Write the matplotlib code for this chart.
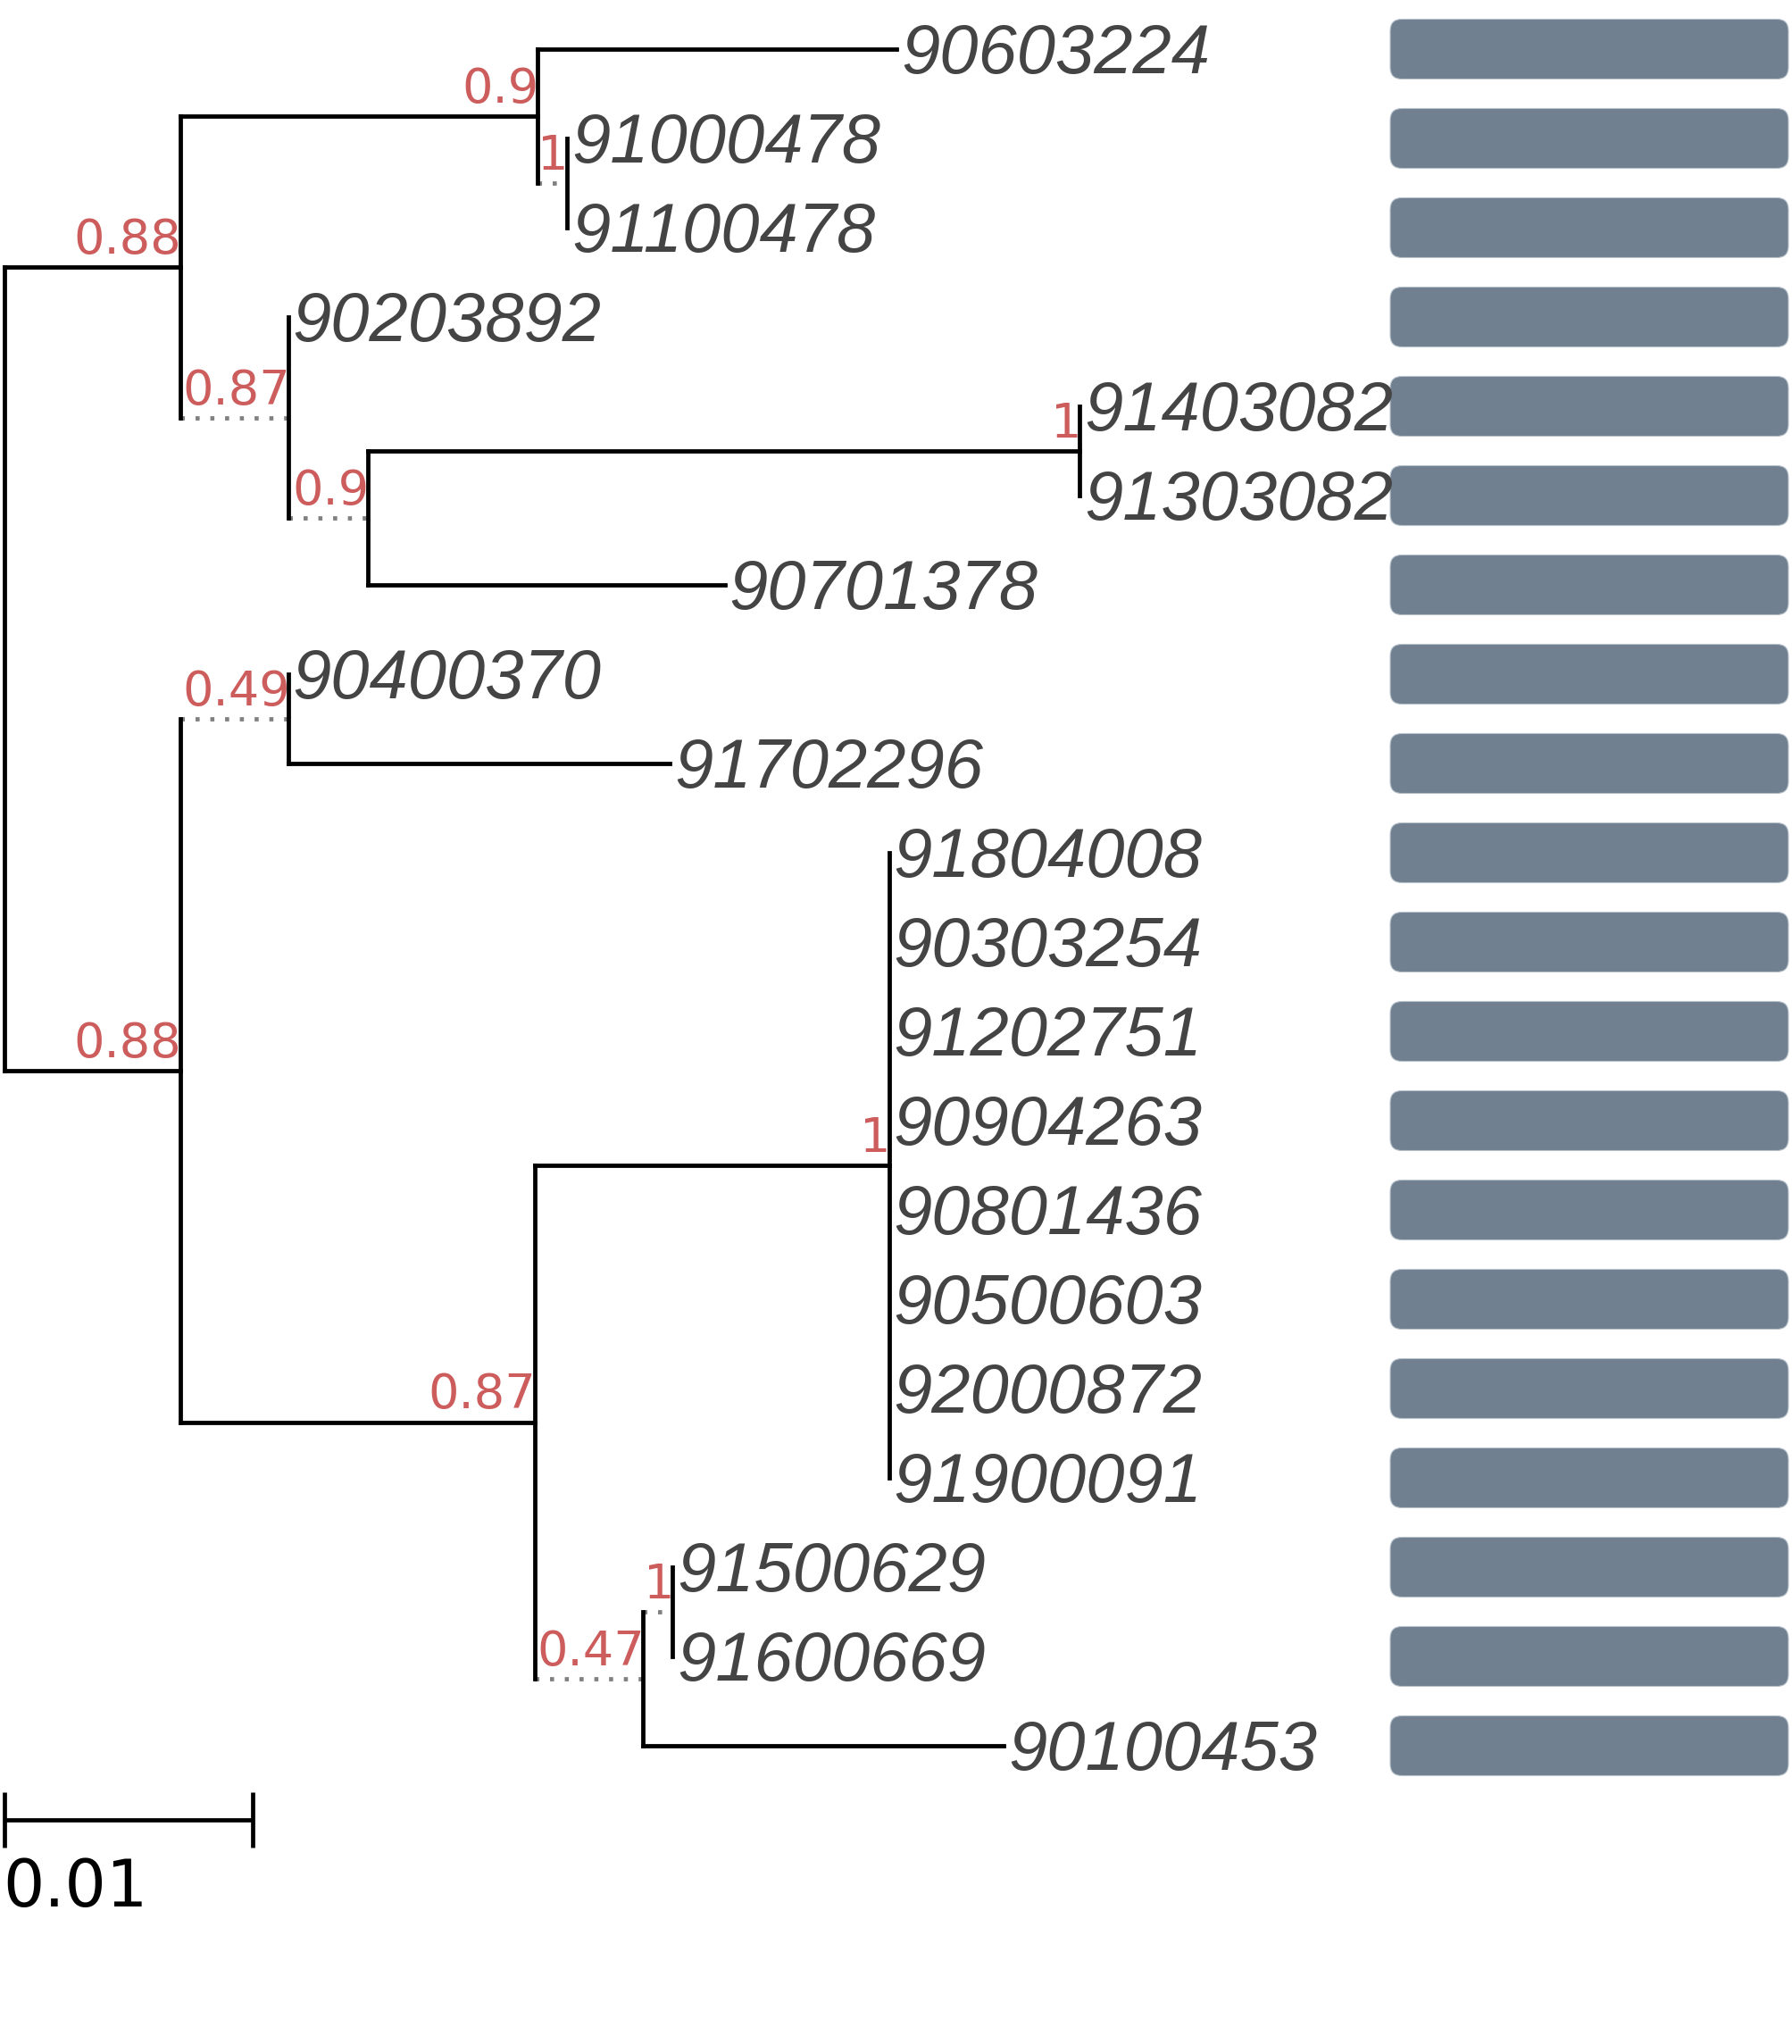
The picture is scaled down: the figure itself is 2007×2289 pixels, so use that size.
import matplotlib
matplotlib.use("Agg")
import matplotlib.pyplot as plt
from matplotlib.patches import FancyBboxPatch

# ---------------- data ----------------
leaf_names = ["90603224", "91000478", "91100478", "90203892", "91403082",
              "91303082", "90701378", "90400370", "91702296", "91804008",
              "90303254", "91202751", "90904263", "90801436", "90500603",
              "92000872", "91900091", "91500629", "91600669", "90100453"]
leaf_parent = ["A1", "A1b", "A1b", "A2", "A2b1", "A2b1", "A2b", "B1", "B1",
               "B2a", "B2a", "B2a", "B2a", "B2a", "B2a", "B2a", "B2a",
               "B2b1", "B2b1", "B2b"]
leaf_length = [0.01449, 0.0, 0.0, 0.0, 0.0, 0.0, 0.01439, 0.0, 0.01538,
               0.0, 0.0, 0.0, 0.0, 0.0, 0.0, 0.0, 0.0, 0.0, 0.0, 0.01455]

node_ids = ["A", "A1", "A1b", "A2", "A2b", "A2b1", "B", "B1", "B2", "B2a", "B2b", "B2b1"]
node_parent = ["root", "A", "A1", "A", "A2", "A2b", "root", "B", "B", "B2", "B2", "B2b"]
node_length = [0.00707, 0.01439, 0.00120, 0.00436, 0.00320, 0.02868,
               0.00707, 0.00436, 0.01428, 0.01428, 0.00436, 0.00121]
node_support = [0.88, 0.9, 1, 0.87, 0.9, 1, 0.88, 0.49, 0.87, 1, 0.47, 1]
node_dotted = [False, False, True, True, True, False,
               False, True, False, False, True, True]

scale_length = 0.01
scale_label = "0.01"

# ---------------- layout constants ----------------
W, H, DPI = 2007, 2289, 100
PX_PER_UNIT = 27800.0      # pixels per branch-length unit
X0_PX = 5.0                # root x in pixels
ROW_PX = 100.0             # pixels per row
Y0_PX = 55.0               # first row centre in pixels


def px_x(p):
    return p / PX_PER_UNIT


def px_y(p):
    return p / ROW_PX


fig = plt.figure(figsize=(W / DPI, H / DPI), dpi=DPI)
ax = fig.add_axes([0, 0, 1, 1])
ax.set_xlim(-X0_PX / PX_PER_UNIT, (W - X0_PX) / PX_PER_UNIT)
ax.set_ylim((H - Y0_PX) / ROW_PX, -Y0_PX / ROW_PX)
ax.axis("off")

# ---------------- compute positions ----------------
xpos = {"root": 0.0}
children = {"root": []}
for nid, par in zip(node_ids, node_parent):
    children.setdefault(par, []).append(nid)
    children.setdefault(nid, [])
for i, par in enumerate(leaf_parent):
    children[par].append(("leaf", i))

for nid, par, bl in zip(node_ids, node_parent, node_length):
    xpos[nid] = xpos[par] + bl

ypos = {}


def get_y(n):
    if isinstance(n, tuple):
        return float(n[1])
    if n in ypos:
        return ypos[n]
    ys = [get_y(c) for c in children[n]]
    ypos[n] = (min(ys) + max(ys)) / 2.0
    return ypos[n]


get_y("root")

LW = 3.45
SOLID = dict(color="black", lw=LW, solid_capstyle="projecting", zorder=3)
DOT = dict(color="#808080", lw=LW, linestyle=(0, (0.95, 2.5)),
           dash_capstyle="butt", zorder=2)

# vertical lines for every internal node
for n in ["root"] + node_ids:
    ys = [get_y(c) for c in children[n]]
    ax.plot([xpos[n], xpos[n]], [min(ys), max(ys)], **SOLID)

# horizontal branches of internal nodes + support labels
for nid, par, sup, dotted in zip(node_ids, node_parent, node_support, node_dotted):
    y = get_y(nid)
    ax.plot([xpos[par], xpos[nid]], [y, y], **(DOT if dotted else SOLID))
    ax.text(xpos[nid] + px_x(2), y - px_y(15), "%g" % sup,
            ha="right", va="baseline", color="#cd5c5c",
            fontsize=39, family="DejaVu Sans", zorder=4)

# leaves
for i, (name, par, bl) in enumerate(zip(leaf_names, leaf_parent, leaf_length)):
    x_end = xpos[par] + bl
    if bl > 0:
        ax.plot([xpos[par], x_end], [i, i], **SOLID)
    ax.text(x_end + px_x(5), i + px_y(27), name, ha="left", va="baseline",
            color="#444444", fontsize=56, family="Liberation Sans",
            style="italic", zorder=4)
    # aligned rectangle face
    bx0, bx1 = px_x(1552), px_x(1998)
    bh = px_y(67)
    box = FancyBboxPatch((bx0, i - bh / 2), bx1 - bx0, bh,
                         boxstyle="round,pad=0,rounding_size=%f" % px_x(13),
                         mutation_aspect=PX_PER_UNIT / ROW_PX,
                         facecolor="#708090", edgecolor="#b8c2cc", lw=0.8,
                         zorder=1)
    ax.add_patch(box)

# scale bar
sy = px_y(2038 - Y0_PX)
tick = px_y(31)
ax.plot([0, scale_length], [sy, sy], color="black", lw=3.4,
        solid_capstyle="butt")
for sx in (0, scale_length):
    ax.plot([sx, sx], [sy - tick, sy + tick], color="black", lw=3.4,
            solid_capstyle="butt")
ax.text(px_x(-2), px_y(2135 - Y0_PX), scale_label, ha="left", va="baseline",
        fontsize=52.5, family="DejaVu Sans", color="black")

fig.savefig("out.png", dpi=DPI, facecolor="white")
